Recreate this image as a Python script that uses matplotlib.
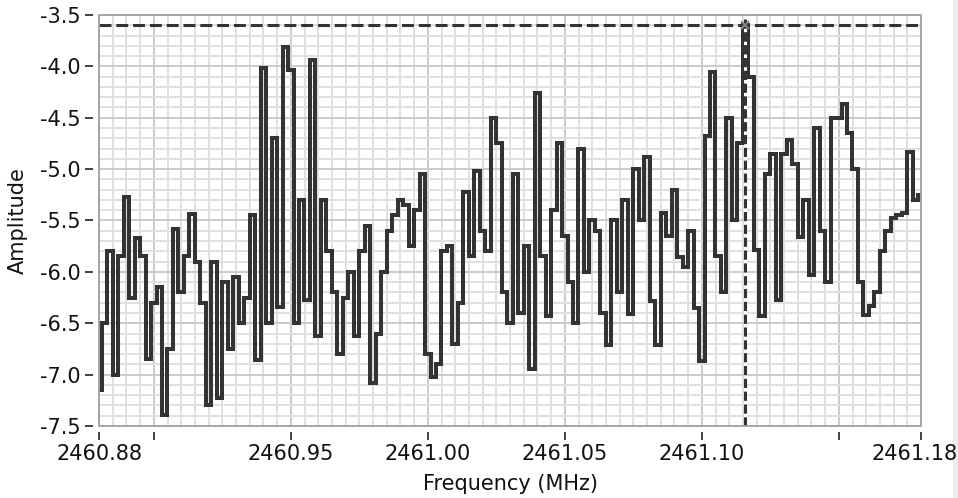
import numpy as np
import matplotlib
matplotlib.use("Agg")
import matplotlib.pyplot as plt
from matplotlib.patches import Rectangle
from matplotlib.transforms import ScaledTranslation

# ---- data ----
f_start = 2460.88
f_step = 0.002
amplitude = [
    -7.15, -6.5, -5.8, -7.0, -5.85, -5.27, -6.25, -5.67, -5.85, -6.85,
    -6.3, -6.15, -7.39, -6.75, -5.58, -6.2, -5.85, -5.44, -5.9, -6.3,
    -7.3, -5.9, -7.23, -6.1, -6.75, -6.05, -6.5, -6.25, -5.45, -6.86,
    -4.02, -6.5, -4.7, -6.34, -3.81, -4.04, -6.5, -5.3, -6.27, -3.94,
    -6.62, -5.3, -5.8, -6.2, -6.8, -6.25, -6.0, -6.62, -5.8, -5.55,
    -7.08, -6.6, -6.0, -5.6, -5.45, -5.3, -5.35, -5.75, -5.4, -5.05,
    -6.8, -7.02, -6.9, -5.8, -5.75, -6.7, -6.3, -5.22, -5.85, -5.02,
    -5.6, -5.8, -4.5, -4.75, -6.2, -6.5, -5.05, -6.4, -5.75, -6.95,
    -4.26, -5.85, -6.43, -5.4, -4.75, -5.65, -6.1, -6.5, -4.8, -6.0,
    -5.5, -5.6, -6.4, -6.71, -5.5, -6.2, -5.3, -6.41, -5.0, -5.5,
    -4.88, -6.28, -6.71, -5.43, -5.65, -5.2, -5.86, -5.95, -5.6, -6.35,
    -6.87, -4.68, -4.05, -5.85, -6.2, -4.5, -5.5, -4.75, -3.6, -4.1,
    -5.79, -6.43, -5.05, -4.85, -6.27, -4.85, -4.72, -4.95, -5.66, -5.3,
    -6.03, -4.6, -5.6, -6.1, -4.5, -4.5, -4.37, -4.65, -5.0, -6.1,
    -6.42, -6.33, -6.2, -5.8, -5.6, -5.48, -5.45, -5.43, -4.83, -5.3,
    -5.25,
]
cursor_freq = 2461.1158
cursor_amp = -3.6

x_ticks = [2460.88, 2460.90, 2460.95, 2461.00, 2461.05, 2461.10, 2461.15, 2461.18]
x_labels = ["2460.88", "", "2460.95", "2461.00", "2461.05", "2461.10", "", "2461.18"]
y_ticks = [-7.5, -7.0, -6.5, -6.0, -5.5, -5.0, -4.5, -4.0, -3.5]
y_labels = ["-7.5", "-7.0", "-6.5", "-6.0", "-5.5", "-5.0", "-4.5", "-4.0", "-3.5"]

freq = f_start + f_step * np.arange(len(amplitude))

# ---- figure ----
W, H = 958, 498
fig = plt.figure(figsize=(W / 100, H / 100), dpi=100)
fig.patch.set_facecolor("white")
left, right, top, bottom = 99, 921, 15, 426
ax = fig.add_axes([left / W, 1 - bottom / H, (right - left) / W, (bottom - top) / H])

ax.set_xlim(2460.88, 2461.18)
ax.set_ylim(-7.5, -3.5)

# grid
ax.set_xticks(np.arange(2460.88, 2461.1801, 0.005), minor=True)
ax.set_yticks(np.arange(-7.5, -3.4999, 0.1), minor=True)
ax.set_xticks(x_ticks)
ax.set_xticklabels(x_labels)
ax.set_yticks(y_ticks)
ax.set_yticklabels(y_labels)
ax.grid(which="minor", color="#e0e0e0", linewidth=1.4, zorder=0)
ax.grid(which="major", color="#cbcbcb", linewidth=1.4, zorder=0)
ax.set_axisbelow(True)

# trace
ax.plot(freq, amplitude, color="#333333", linewidth=2.9, drawstyle="steps-mid",
        solid_joinstyle="miter", zorder=3)

# cursor
ax.axhline(cursor_amp, color="#333333", linewidth=2.2, dashes=(3.9, 1.6), zorder=4)
ax.axvline(cursor_freq, color="#333333", linewidth=2.2, dashes=(3.0, 1.2),
           gapcolor="white", zorder=4)
ax.plot([cursor_freq], [cursor_amp], marker="x", markersize=6, mew=1.3,
        color="#888888", zorder=5, clip_on=False)

# spines / ticks
for s in ["left", "bottom"]:
    ax.spines[s].set_position(("outward", 4))
    ax.spines[s].set_color("none")
for s in ["top", "right"]:
    ax.spines[s].set_visible(False)
ax.add_patch(Rectangle((0, 0), 1, 1, transform=ax.transAxes, fill=False,
                       edgecolor="#a0a0a0", linewidth=1.3, zorder=6, clip_on=False))
ax.tick_params(which="major", direction="out", length=6, width=1.2, color="#222222",
               labelsize=15, labelcolor="#111111", pad=3)
ax.tick_params(which="minor", length=0)

# keep the last x label inside the picture
last = ax.get_xticklabels()[-1]
last.set_transform(last.get_transform() + ScaledTranslation(-6 / 100, 0, fig.dpi_scale_trans))

ax.set_xlabel("Frequency (MHz)", fontsize=15, color="#111111", labelpad=7)
ax.set_ylabel("Amplitude", fontsize=15, color="#111111", labelpad=9)

# right side strip (behind the texts)
fig.add_artist(Rectangle((953 / W, 0), 1 - 953 / W, 1, transform=fig.transFigure,
                         facecolor="#eeeeee", edgecolor="none", zorder=-1))

fig.savefig("out.png", dpi=100)
